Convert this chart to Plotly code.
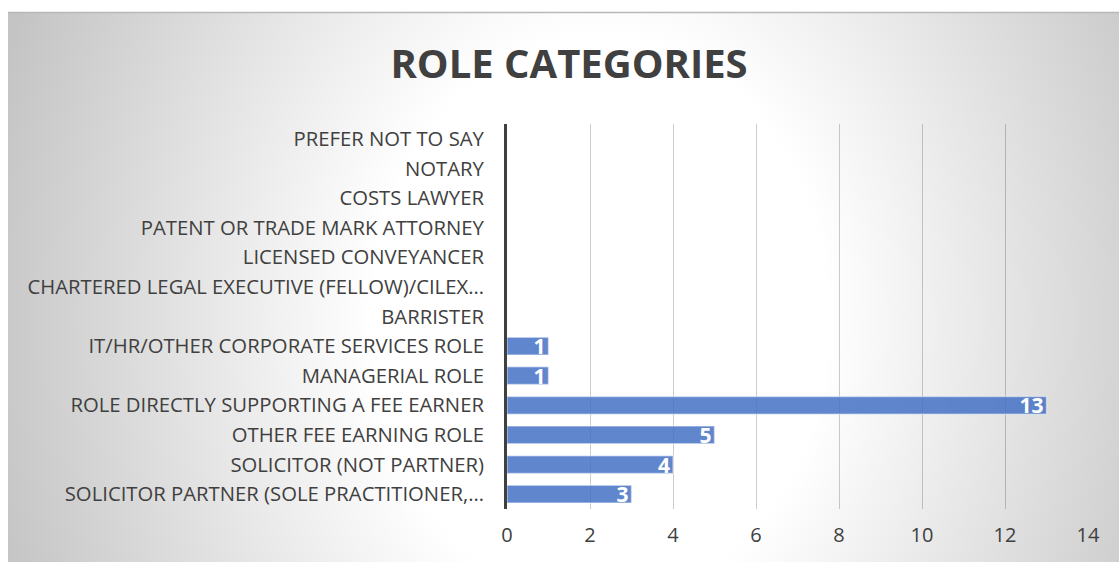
import base64
import plotly.graph_objects as go

# Data (bottom to top)
categories = [
    "SOLICITOR PARTNER (SOLE PRACTITIONER,…",
    "SOLICITOR (NOT PARTNER)",
    "OTHER FEE EARNING ROLE",
    "ROLE DIRECTLY SUPPORTING A FEE EARNER",
    "MANAGERIAL ROLE",
    "IT/HR/OTHER CORPORATE SERVICES ROLE",
    "BARRISTER",
    "CHARTERED LEGAL EXECUTIVE (FELLOW)/CILEX…",
    "LICENSED CONVEYANCER",
    "PATENT OR TRADE MARK ATTORNEY",
    "COSTS LAWYER",
    "NOTARY",
    "PREFER NOT TO SAY",
]
values = [3, 4, 5, 13, 1, 1, 0, 0, 0, 0, 0, 0, 0]
x_ticks = [0, 2, 4, 6, 8, 10, 12, 14]
title_text = "ROLE CATEGORIES"

labels = [str(v) if v else "" for v in values]

W, H = 1119, 562
ml, mr, mt, mb = 507, 31, 124, 53
pw, ph = W - ml - mr, H - mt - mb

# Background: white page with a radial-gradient chart area, as one SVG image
svg = f'''<svg xmlns="http://www.w3.org/2000/svg" width="{W}" height="{H}" viewBox="0 0 {W} {H}" preserveAspectRatio="none">
<defs><radialGradient id="g" gradientUnits="userSpaceOnUse" cx="600" cy="320" r="630"
 gradientTransform="translate(600 320) scale(1 1.25) translate(-600 -320)">
<stop offset="0" stop-color="#ffffff"/><stop offset="0.36" stop-color="#ffffff"/><stop offset="1" stop-color="#c4c4c4"/>
</radialGradient></defs>
<rect x="0" y="0" width="{W}" height="{H}" fill="#ffffff"/>
<rect x="8" y="12" width="{W - 8}" height="{H - 12}" fill="url(#g)"/>
<line x1="8" y1="12.5" x2="{W}" y2="12.5" stroke="#b8b8b8" stroke-width="1.5"/>
</svg>'''
src = "data:image/svg+xml;base64," + base64.b64encode(svg.encode()).decode()

fig = go.Figure(
    go.Bar(
        x=values,
        y=categories,
        orientation="h",
        text=labels,
        textposition="inside",
        insidetextanchor="end",
        textangle=0,
        textfont=dict(color="white", size=21, family="Open Sans", weight="bold"),
        constraintext="none",
        marker=dict(color="rgba(68,114,196,0.85)", line=dict(color="rgba(255,255,255,0.45)", width=1.5)),
        width=0.6,
        hoverinfo="skip",
    )
)

fig.add_layout_image(
    source=src,
    xref="paper", yref="paper",
    x=-ml / pw, y=(H - mb) / ph,
    sizex=W / pw, sizey=H / ph,
    xanchor="left", yanchor="top",
    sizing="stretch", layer="below",
)

fig.update_layout(
    width=W, height=H,
    margin=dict(l=ml, r=mr, t=mt, b=mb),
    paper_bgcolor="white",
    plot_bgcolor="rgba(0,0,0,0)",
    showlegend=False,
    title=dict(
        text=title_text,
        x=569 / W, y=1 - 64 / H, xanchor="center", yanchor="middle",
        font=dict(family="Open Sans", size=40, color="#404040", weight="bold"),
    ),
    font=dict(family="Open Sans", color="#404040"),
)

fig.update_xaxes(
    range=[0, 14], tickvals=x_ticks, ticktext=[str(t) for t in x_ticks],
    showgrid=True, gridcolor="rgba(0,0,0,0.2)", gridwidth=1,
    zeroline=False, showline=False, ticks="",
    tickfont=dict(size=20, color="#404040", family="Open Sans"),
    ticklabelstandoff=12,
)
fig.update_yaxes(
    categoryorder="array", categoryarray=categories,
    range=[-0.5, len(categories) - 0.5],
    showgrid=False, zeroline=False,
    showline=True, linecolor="#404040", linewidth=3,
    ticks="", tickfont=dict(size=20.3, color="#404040", family="Open Sans"),
    ticklabelstandoff=16,
)

fig.write_html(
    "out.html",
    config={"displayModeBar": False},
    post_script="document.body.style.margin='0';document.body.style.padding='0';",
)
